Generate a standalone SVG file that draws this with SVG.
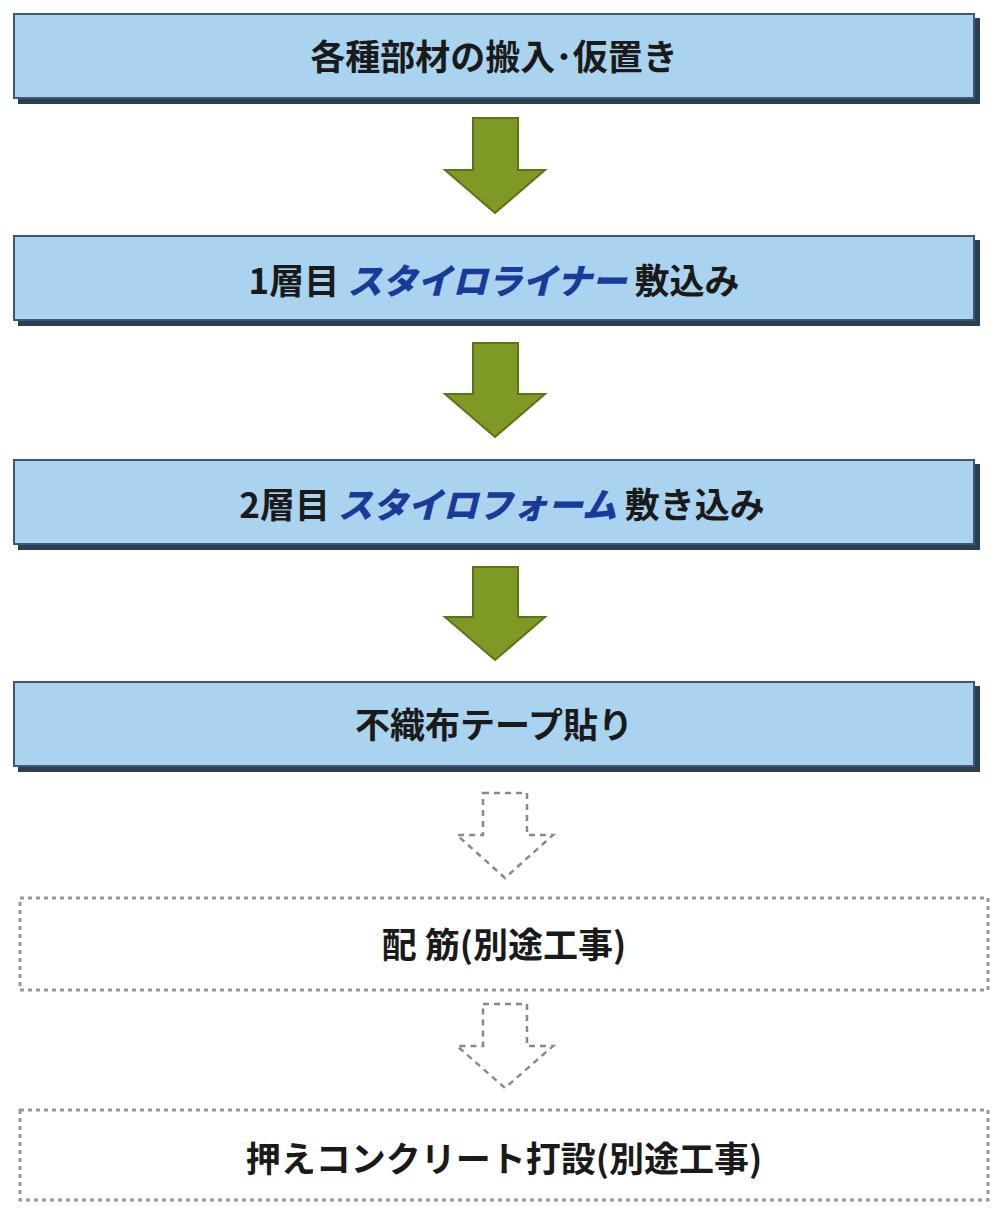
<svg xmlns="http://www.w3.org/2000/svg" width="996" height="1232" viewBox="0 0 996 1232">
<defs>
<style>
.box{fill:#a9d3ee;stroke:#3c5a78;stroke-width:2}
.sh{fill:#2c3e50}
.t{font-family:"Noto Sans CJK JP",sans-serif;font-size:35px;fill:#1a1a1a;text-anchor:middle;font-weight:700}
.brand{fill:#1a3a9a;font-weight:900;font-style:italic}
.ga{fill:#7e9a24;stroke:#5d7318;stroke-width:2}
.da{fill:none;stroke:#888;stroke-width:2.5;stroke-dasharray:6 5}
.db{fill:#fff;stroke:#999;stroke-width:3;stroke-dasharray:4 4}
</style>
</defs>
<rect width="996" height="1232" fill="#fff"/>
<g id="n1"><rect class="sh" x="18" y="18" width="962" height="86"/><rect class="box" x="14" y="14" width="960" height="84"/><text class="t" x="494" y="70">各種部材の搬入･仮置き</text></g>
<g id="n2"><rect class="sh" x="18" y="240" width="962" height="86"/><rect class="box" x="14" y="236" width="960" height="84"/><text class="t" x="494" y="294">1層目 <tspan class="brand">スタイロライナー</tspan> 敷込み</text></g>
<g id="n3"><rect class="sh" x="18" y="464" width="962" height="86"/><rect class="box" x="14" y="460" width="960" height="84"/><text class="t" x="502" y="518">2層目 <tspan class="brand">スタイロフォーム</tspan> 敷き込み</text></g>
<g id="n4"><rect class="sh" x="18" y="686" width="962" height="86"/><rect class="box" x="14" y="682" width="960" height="84"/><text class="t" x="494" y="738">不織布テープ貼り</text></g>
<g id="n5"><rect class="db" x="20" y="898" width="968" height="92"/><text class="t" x="504" y="958">配 筋(別途工事)</text></g>
<g id="n6"><rect class="db" x="20" y="1110" width="968" height="90"/><text class="t" x="504" y="1172">押えコンクリート打設(別途工事)</text></g>
<g id="connectors">
<path class="ga" d="M473,118H518V170H545L495,213L445,170H473Z"/>
<path class="ga" d="M473,343H518V394H545L495,437L445,394H473Z"/>
<path class="ga" d="M473,567H518V617H545L495,660L445,617H473Z"/>
<path class="da" d="M483,793H527V835H553L505,878L457,835H483Z"/>
<path class="da" d="M483,1004H527V1046H553L505,1088L457,1046H483Z"/>
</g>
</svg>
